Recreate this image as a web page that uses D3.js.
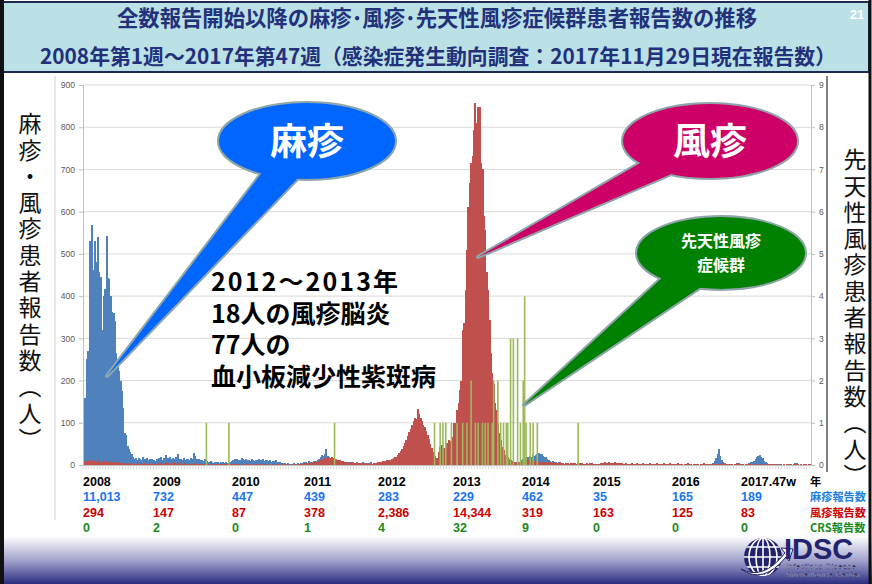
<!DOCTYPE html>
<html lang="ja">
<head>
<meta charset="utf-8">
<script src="https://cdn.jsdelivr.net/npm/d3@7"></script>
<style>
  html, body { margin: 0; padding: 0; background: #fff; }
  svg { display: block; }
  text { font-family: "Liberation Sans", Arial, sans-serif; }
  .jp { font-family: "Noto Sans CJK JP", "Noto Sans", sans-serif; }
</style>
</head>
<body>
<div id="chart"></div>
<script>
// ---- データ（週別報告数、2008年第1週～2017年第47週） ----
const years = [2008, 2009, 2010, 2011, 2012, 2013, 2014, 2015, 2016, 2017];
const weeksPerYear = [52, 53, 52, 52, 52, 52, 52, 53, 52, 47];

// 麻疹
const measles2008 = [87,158,250,270,530,465,568,462,530,480, 540,458,445,320,400,418,542,442,440,400,
  362,360,340,265,250,222,198,175,135,75, 70,45,38,30,25,18,15,17,13,16, 14,12,18,14,13,16,12,15,14,11, 13,10];
const measles2009 = [14,16,15,18,13,17,24,15,16,19, 14,17,15,20,16,26,14,15,13,16, 12,14,15,13,16,14,29,22,14,12,
  15,11,13,10,14,9,8,6,9,7, 5,8,6,7,5,6,4,7,5,6, 4,5,6];
const measles2010 = [10,12,14,11,15,13,12,16,14,12, 15,11,13,10,14,12,9,13,11,14, 10,12,15,9,11,13,10,12,8,10,
  9,11,7,8,6,5,4,3,5,2, 4,3,3,2,4,3,2,4,3,5, 4,6];
const measles2011 = [6,8,5,9,7,6,10,8,9,12, 14,18,24,22,27,37,22,16,14,12, 10,9,11,8,7,9,6,8,5,7,
  6,5,7,4,6,5,4,6,3,5, 4,6,5,4,3,5,4,6,3,4, 5,4];
const measles2012 = [6,8,7,5,9,7,6,8,7,5, 6,8,7,5,6,4,7,6,5,6, 4,5,7,5,6,4,5,4,6,5,
  3,5,4,6,3,4,5,4,3,5, 4,6,3,5,4,6,5,4,6,5, 7,6];
const measles2013 = [5,4,6,5,3,4,5,6,4,3, 5,4,6,3,4,5,3,4,4,3, 5,4,3,5,4,3,4,3,4,2,
  3,4,3,2,4,3,3,2,4,3, 2,3,4,3,5,4,6,5,7,9, 12,14];
const measles2014 = [15,18,20,17,22,19,24,21,23,26, 28,25,27,22,18,20,15,12,10,8, 9,7,6,5,6,4,5,4,3,4,
  2,3,3,2,3,2,2,1,2,2, 1,2,1,1,2,1,1,0,1,1, 1,0];
const measles2015 = [1,0,1,0,1,1,0,0,1,0, 2,1,0,1,0,1,0,0,1,1, 0,1,0,0,1,0,1,1,0,0,
  1,0,0,1,0,0,1,0,1,0, 0,1,0,0,1,1,0,0,1,0, 1,2,1];
const measles2016 = [1,0,2,1,0,1,3,1,0,2, 1,0,1,2,0,1,0,1,2,1, 0,1,2,1,0,1,2,0,1,5,
  10,16,26,38,21,12,8,5,3,2, 1,2,1,0,1,3,5,4,2,1, 0,1];
const measles2017 = [2,3,5,4,6,8,10,14,18,22, 24,20,16,10,6,4,3,2,3,2, 1,2,1,2,1,0,1,2,1,1,
  0,1,2,1,3,5,4,2,1,1, 0,1,1,0,1,0,1];

// 風疹
const rubella2008 = [8,10,7,12,9,6,11,8,10,7, 9,12,8,6,10,7,9,5,8,6, 7,5,6,4,6,5,4,3,5,4,
  3,4,2,3,4,3,2,3,4,2, 3,2,3,4,2,3,2,3,2,4, 3,2];
const rubella2009 = [3,4,2,5,3,2,8,3,5,2, 3,4,6,3,2,4,3,5,2,3, 4,2,3,2,3,2,4,2,3,1,
  2,3,2,3,1,2,3,2,1,3, 2,2,3,1,2,3,2,1,2,3, 2,2,3];
const rubella2010 = [2,1,3,2,1,2,1,3,2,1, 2,1,2,3,1,2,1,2,1,2, 1,3,2,1,2,1,2,1,1,2,
  1,2,1,2,1,1,2,1,2,1, 2,1,1,2,1,2,1,3,2,2, 3,4];
const rubella2011 = [3,4,2,5,4,6,5,7,6,8, 10,12,14,15,17,16,18,20,17,19, 16,14,15,12,13,11,10,9,8,7,
  8,6,5,6,4,5,4,3,4,5, 3,4,3,2,4,3,4,2,3,4, 3,5];
const rubella2012 = [6,8,7,9,10,9,12,11,13,12, 14,16,18,20,24,28,33,38,45,52, 60,68,78,86,95,105,112,108,132,120,
  112,104,95,90,80,72,62,50,40,30, 22,14,16,30,42,48,36,40,46,52, 60,58];
const rubella2013 = [63,67,99,99,130,146,178,200,320,336, 415,510,612,668,715,731,794,857,810,849,
  849,715,700,590,557,458,415,344,265,217, 193,146,130,99,75,59,43,35,24,20, 18,15,12,10,9,8,7,6,5,6, 5,4];
const rubella2014 = [16,14,12,13,10,11,9,10,8,9, 7,8,6,7,8,6,5,7,6,5, 4,6,5,4,5,6,4,5,3,4,
  5,4,3,4,5,3,4,3,5,4, 3,4,3,2,4,3,5,3,4,3, 2,3];
const rubella2015 = [2,3,4,5,5,6,4,5,6,5, 4,5,6,4,5,3,4,5,3,2, 4,3,2,3,4,2,3,2,4,3,
  2,3,4,2,3,2,3,4,2,3, 3,2,4,3,2,3,2,4,3,2, 3,4,2];
const rubella2016 = [2,3,1,2,4,2,3,2,1,3, 2,4,3,2,1,3,2,3,2,1, 2,3,4,2,3,2,1,3,2,2,
  3,2,1,2,3,2,4,3,2,1, 2,3,2,1,3,2,4,3,2,3, 2,1];
const rubella2017 = [2,1,2,3,1,2,1,2,3,2, 1,2,1,3,2,1,2,1,2,3, 2,1,2,1,2,3,1,2,1,2,
  1,2,3,1,2,1,2,3,1,2, 1,2,1,2,1,3,2];

// 先天性風疹症候群（報告のあった週のみ）
const crsYear  = [2009,2009,2011,2012,2012,2012,2012, 2013,2013,2013,2013,2013,2013,2013,2013,2013,2013,2013,
  2013,2013,2013,2013,2013,2013,2013,2013,2013,2013,2013, 2014,2014,2014,2014,2014,2014];
const crsWeek  = [36,52,22,41,45,47,49, 1,5,9,12,15,18,20,23,25,27,30, 31,34,36,38,40,41,43,45,48,50,52, 1,2,5,7,10,39];
const crsCount = [1,1,1,1,1,1,1, 1,1,1,1,2,1,1,1,1,1,1, 2,2,1,1,1,1,3,3,3,1,2, 4,1,1,1,1,1];

// 年別合計（表）
const tableYearLabels = ["2008", "2009", "2010", "2011", "2012", "2013", "2014", "2015", "2016", "2017.47w"];
const measlesTotals = [11013, 732, 447, 439, 283, 229, 462, 35, 165, 189];
const rubellaTotals = [294, 147, 87, 378, 2386, 14344, 319, 163, 125, 83];
const crsTotals = [0, 2, 0, 1, 4, 32, 9, 0, 0, 0];
const yAxisTicks = [0, 100, 200, 300, 400, 500, 600, 700, 800, 900];
const y2AxisTicks = [0, 1, 2, 3, 4, 5, 6, 7, 8, 9];

// ---- レイアウト ----
const W = 872, H = 584;
const plot = { left: 83, right: 811, top: 85, bottom: 465 };
const tableX = [83, 153, 232, 304, 378, 453, 522, 593, 672, 741];
const colMeasles = "#4F81BD", colRubella = "#C0504D", colCrs = "#9BBB59";
const navy = "#22317A";

const measlesWeekly = [measles2008, measles2009, measles2010, measles2011, measles2012,
  measles2013, measles2014, measles2015, measles2016, measles2017].flat();
const rubellaWeekly = [rubella2008, rubella2009, rubella2010, rubella2011, rubella2012,
  rubella2013, rubella2014, rubella2015, rubella2016, rubella2017].flat();
const yearStart = weeksPerYear.map((n, i) => d3.sum(weeksPerYear.slice(0, i)));
const nWeeks = d3.sum(weeksPerYear);
const crsData = crsYear.map((yr, k) => ({
  idx: yearStart[years.indexOf(yr)] + crsWeek[k] - 1,
  value: crsCount[k]
}));

const svg = d3.select("#chart").append("svg")
  .attr("width", W).attr("height", H);

const defs = svg.append("defs");
const grad = defs.append("linearGradient").attr("id", "footGrad")
  .attr("x1", 0).attr("y1", 0).attr("x2", 0).attr("y2", 1);
grad.append("stop").attr("offset", "0%").attr("stop-color", "#ffffff");
grad.append("stop").attr("offset", "55%").attr("stop-color", "#9a9ac8");
grad.append("stop").attr("offset", "100%").attr("stop-color", "#2B2D80");

// 1. 背景・フッター
svg.append("rect").attr("width", W).attr("height", H).attr("fill", "#fff");
svg.append("rect").attr("x", 0).attr("y", 536).attr("width", W).attr("height", 48)
  .attr("fill", "url(#footGrad)");

// 2. ヘッダー
svg.append("rect").attr("x", 3).attr("y", 2).attr("width", 866).attr("height", 70)
  .attr("fill", "#BBE1E7").attr("stroke", "#1c2a55").attr("stroke-width", 2);
svg.append("text").attr("class", "jp")
  .attr("x", 437).attr("y", 26).attr("text-anchor", "middle")
  .attr("font-size", 22).attr("font-weight", 700).attr("fill", navy)
  .attr("textLength", 640).attr("lengthAdjust", "spacingAndGlyphs")
  .text("全数報告開始以降の麻疹･風疹･先天性風疹症候群患者報告数の推移");
svg.append("text").attr("class", "jp")
  .attr("x", 438).attr("y", 64).attr("text-anchor", "middle")
  .attr("font-size", 21).attr("font-weight", 700).attr("fill", navy)
  .attr("textLength", 796).attr("lengthAdjust", "spacingAndGlyphs")
  .text("2008年第1週～2017年第47週（感染症発生動向調査：2017年11月29日現在報告数）");
svg.append("text").attr("x", 857).attr("y", 19).attr("text-anchor", "middle")
  .attr("font-size", 13).attr("font-weight", 700).attr("fill", "#fff").text("21");

// 枠線
svg.append("line").attr("x1", 2).attr("x2", 2).attr("y1", 0).attr("y2", H)
  .attr("stroke", "#111").attr("stroke-width", 4);
svg.append("line").attr("x1", 870).attr("x2", 870).attr("y1", 0).attr("y2", H)
  .attr("stroke", "#111").attr("stroke-width", 3);
svg.append("line").attr("x1", 55).attr("x2", 55).attr("y1", 76).attr("y2", 520)
  .attr("stroke", "#d0d0d0").attr("stroke-width", 1);
svg.append("line").attr("x1", 827).attr("x2", 827).attr("y1", 76).attr("y2", 472)
  .attr("stroke", "#555").attr("stroke-width", 1.5);

// 3. スケール
const x = d3.scaleBand().domain(d3.range(nWeeks)).range([plot.left, plot.right]).paddingInner(0);
const y = d3.scaleLinear().domain([0, 900]).range([plot.bottom, plot.top]);
const y2 = d3.scaleLinear().domain([0, 9]).range([plot.bottom, plot.top]);

const g = svg.append("g");

// 目盛線
g.selectAll(".grid").data(yAxisTicks.slice(1)).join("line")
  .attr("class", "grid")
  .attr("x1", plot.left).attr("x2", plot.right)
  .attr("y1", d => y(d)).attr("y2", d => y(d))
  .attr("stroke", "#d9d9d9").attr("stroke-width", 1);

// 4. 棒（麻疹 → 風疹 → CRS）
const bw = x.bandwidth();
g.selectAll(".m").data(measlesWeekly).join("rect")
  .attr("class", "m")
  .attr("x", (d, i) => x(i)).attr("width", bw + 0.6)
  .attr("y", d => y(d)).attr("height", d => y(0) - y(d))
  .attr("fill", colMeasles).attr("shape-rendering", "crispEdges");
g.selectAll(".r").data(rubellaWeekly).join("rect")
  .attr("class", "r")
  .attr("x", (d, i) => x(i)).attr("width", bw + 0.6)
  .attr("y", d => y(d)).attr("height", d => y(0) - y(d))
  .attr("fill", colRubella).attr("shape-rendering", "crispEdges");
g.selectAll(".c").data(crsData).join("rect")
  .attr("class", "c")
  .attr("x", d => x(d.idx) + 0.1).attr("width", 1.6)
  .attr("y", d => y2(d.value)).attr("height", d => y2(0) - y2(d.value))
  .attr("fill", colCrs);

// 5. 軸
const axisL = g.append("g").attr("transform", `translate(${plot.left},0)`)
  .call(d3.axisLeft(y).tickValues(yAxisTicks).tickSize(4).tickPadding(4));
const axisR = g.append("g").attr("transform", `translate(${plot.right},0)`)
  .call(d3.axisRight(y2).tickValues(y2AxisTicks).tickSize(4).tickPadding(4));
[axisL, axisR].forEach(a => {
  a.select(".domain").attr("stroke", "#bfbfbf");
  a.selectAll(".tick line").attr("stroke", "#bfbfbf");
  a.selectAll(".tick text").attr("fill", "#595959")
    .attr("font-size", 8.5).attr("font-family", "Liberation Sans, Arial, sans-serif");
});
// 横軸（週の目盛）
g.append("line").attr("x1", plot.left).attr("x2", plot.right)
  .attr("y1", plot.bottom + 0.5).attr("y2", plot.bottom + 0.5)
  .attr("stroke", "#bfbfbf");
g.selectAll(".wt").data(d3.range(0, nWeeks + 1, 2)).join("line")
  .attr("class", "wt")
  .attr("x1", d => plot.left + d * bw).attr("x2", d => plot.left + d * bw)
  .attr("y1", plot.bottom).attr("y2", plot.bottom + 4)
  .attr("stroke", "#d0d0d0").attr("stroke-width", 0.8);

// 6. 縦書きの軸タイトル
svg.append("text").attr("class", "jp")
  .attr("x", 30).attr("y", 112)
  .style("writing-mode", "vertical-rl")
  .attr("font-size", 23).attr("letter-spacing", 3.3).attr("fill", "#111")
  .text("麻疹・風疹患者報告数（人）");
svg.append("text").attr("class", "jp")
  .attr("x", 855).attr("y", 148)
  .style("writing-mode", "vertical-rl")
  .attr("font-size", 23).attr("letter-spacing", 3.3).attr("fill", "#111")
  .text("先天性風疹患者報告数（人）");

// 7. 吹き出し
const calloutStroke = "#8EA6AA";
function drawCallout(c) {
  const grp = svg.append("g");
  const wedge = "M" + [c.base[0], c.tip, c.base[1]].map(p => p.join(",")).join("L") + "Z";
  grp.append("path").attr("d", wedge).attr("fill", "none")
    .attr("stroke", calloutStroke).attr("stroke-width", 4).attr("stroke-linejoin", "round");
  grp.append("ellipse").attr("cx", c.cx).attr("cy", c.cy).attr("rx", c.rx).attr("ry", c.ry)
    .attr("fill", "none").attr("stroke", calloutStroke).attr("stroke-width", 4);
  grp.append("path").attr("d", wedge).attr("fill", c.fill);
  grp.append("ellipse").attr("cx", c.cx).attr("cy", c.cy).attr("rx", c.rx).attr("ry", c.ry)
    .attr("fill", c.fill);
  c.lines.forEach((t, k) => {
    grp.append("text").attr("class", "jp")
      .attr("x", c.cx).attr("y", c.textY + k * c.lineH)
      .attr("text-anchor", "middle")
      .attr("font-size", c.fontSize).attr("font-weight", 700).attr("fill", "#fff")
      .text(t);
  });
}
drawCallout({ cx: 307, cy: 141, rx: 88, ry: 38, fill: "#0066FF",
  base: [[264, 170], [300, 176]], tip: [107, 376],
  lines: ["麻疹"], textY: 155, lineH: 0, fontSize: 37 });
drawCallout({ cx: 710, cy: 141, rx: 87, ry: 37, fill: "#CC0066",
  base: [[642, 162], [676, 172]], tip: [478, 257],
  lines: ["風疹"], textY: 155, lineH: 0, fontSize: 37 });
drawCallout({ cx: 721, cy: 253, rx: 84, ry: 36, fill: "#008000",
  base: [[664, 276], [704, 285]], tip: [524, 405],
  lines: ["先天性風疹", "症候群"], textY: 247, lineH: 24, fontSize: 16 });

// 8. 注記
const noteLines = ["2012～2013年", "18人の風疹脳炎", "77人の", "血小板減少性紫斑病"];
svg.selectAll(".note").data(noteLines).join("text")
  .attr("class", "note jp")
  .attr("x", 211).attr("y", (d, i) => 291 + i * 31.5)
  .attr("font-size", 25).attr("font-weight", 700).attr("fill", "#000")
  .each(function (d, i) { if (i === 0) d3.select(this).attr("textLength", 187); })
  .text(d => d);

// 9. 年別合計の表
const fmt = d3.format(",");
const rows = [
  { vals: tableYearLabels, color: "#000", yy: 486 },
  { vals: measlesTotals.map(fmt), color: "#1874F0", yy: 501 },
  { vals: rubellaTotals.map(fmt), color: "#CC0000", yy: 517 },
  { vals: crsTotals.map(fmt), color: "#1A8A1A", yy: 532 }
];
rows.forEach(r => {
  svg.append("g").selectAll("text").data(r.vals).join("text")
    .attr("x", (d, i) => tableX[i]).attr("y", r.yy)
    .attr("font-size", 12.5).attr("font-weight", 700).attr("fill", r.color)
    .text(d => d);
});
const rowLabels = [["年", "#000"], ["麻疹報告数", "#1F7FE0"], ["風疹報告数", "#CC0000"], ["CRS報告数", "#1A8A1A"]];
rowLabels.forEach(([t, c], k) => {
  svg.append("text").attr("class", "jp")
    .attr("x", 810).attr("y", rows[k].yy)
    .attr("font-size", 11.2).attr("font-weight", 700).attr("fill", c).text(t);
});

// 10. IDSC ロゴ
function drawLogo() {
  const lg = svg.append("g");
  const cx = 763, cy = 557, r = 19;
  defs.append("clipPath").attr("id", "globeClip")
    .append("circle").attr("cx", cx).attr("cy", cy).attr("r", r);
  lg.append("circle").attr("cx", cx).attr("cy", cy).attr("r", r).attr("fill", "#23236E");
  const gl = lg.append("g").attr("clip-path", "url(#globeClip)")
    .attr("fill", "none").attr("stroke", "#fff").attr("stroke-width", 1.6);
  [7, 14].forEach(rx => gl.append("ellipse").attr("cx", cx).attr("cy", cy).attr("rx", rx).attr("ry", r));
  gl.append("line").attr("x1", cx).attr("x2", cx).attr("y1", cy - r).attr("y2", cy + r);
  [-10, 0, 10].forEach(dy => gl.append("line").attr("x1", cx - r).attr("x2", cx + r)
    .attr("y1", cy + dy).attr("y2", cy + dy));
  lg.append("path")
    .attr("d", `M${cx - 22},${cy + 12} Q${cx},${cy + 24} ${cx + 22},${cy - 4} L${cx + 18},${cy - 9} L${cx + 30},${cy - 8} L${cx + 26},${cy + 4} L${cx + 23},${cy}`
      + ` Q${cx},${cy + 28} ${cx - 22},${cy + 12}Z`)
    .attr("fill", "#fff").attr("stroke", "#23236E").attr("stroke-width", 1);
  lg.append("text").attr("x", 784).attr("y", 559)
    .attr("font-size", 29).attr("font-weight", 700).attr("fill", "#23236E").text("IDSC");
  lg.append("text").attr("x", 786).attr("y", 569)
    .attr("font-size", 7.5).attr("fill", "#e6e6f6").attr("stroke", "#2a2a66").attr("stroke-width", 0.3)
    .attr("letter-spacing", 0.5).text("Infectious Disease");
  lg.append("text").attr("x", 786).attr("y", 577)
    .attr("font-size", 7.5).attr("fill", "#e6e6f6").attr("stroke", "#2a2a66").attr("stroke-width", 0.3)
    .attr("letter-spacing", 0.5).text("Surveillance Center");
}
drawLogo();
</script>
</body>
</html>
